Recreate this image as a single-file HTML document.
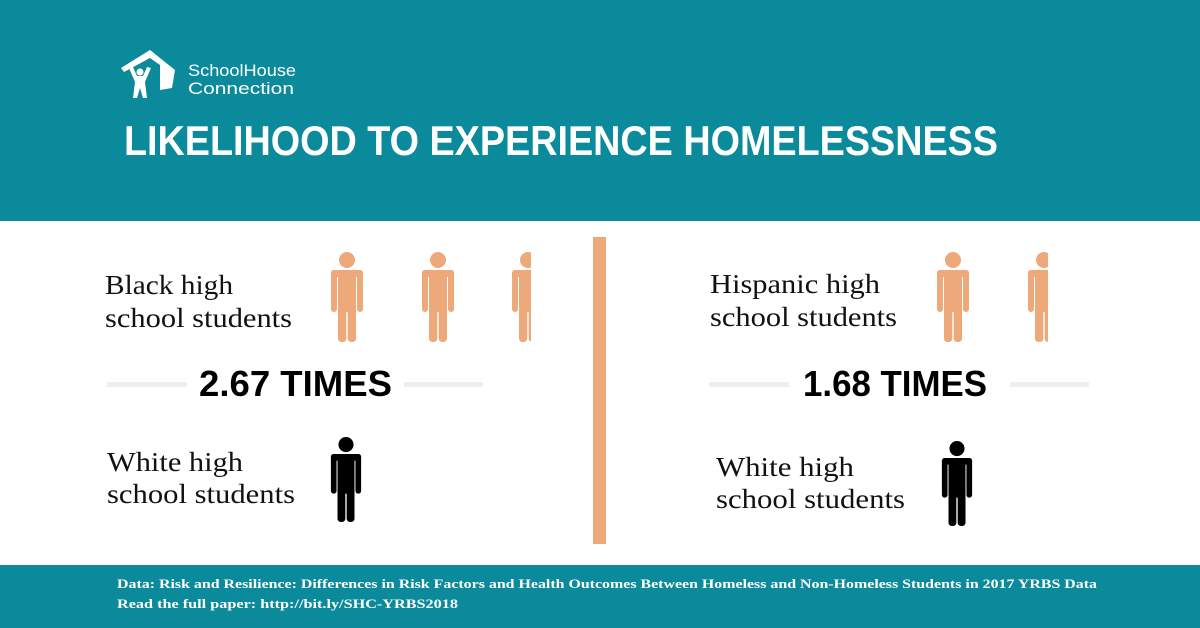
<!DOCTYPE html>
<html><head><meta charset="utf-8"><style>html,body{margin:0;padding:0;background:#fff}svg{display:block}</style></head>
<body>
<svg width="1200" height="628" viewBox="0 0 1200 628" xmlns="http://www.w3.org/2000/svg">
<defs>
<symbol id="p" viewBox="0 0 32 90">
<circle cx="16" cy="8" r="8"/>
<rect x="0" y="18" width="32" height="7" rx="3"/>
<rect x="0" y="18" width="6" height="42" rx="3"/>
<rect x="26" y="18" width="6" height="42" rx="3"/>
<rect x="7" y="18" width="18" height="42"/>
<rect x="7" y="54" width="8.3" height="36" rx="3.5"/>
<rect x="16.7" y="54" width="8.3" height="36" rx="3.5"/>
</symbol>
<clipPath id="c1"><rect x="500" y="240" width="31" height="110"/></clipPath>
<clipPath id="c2"><rect x="1020" y="240" width="28" height="110"/></clipPath>
</defs>
<rect x="0" y="0" width="1200" height="221" fill="#0b8a9c"/>
<rect x="0" y="565" width="1200" height="63" fill="#0b8a9c"/>
<!-- logo -->
<g fill="#fff">
<path d="M121 68 L150 50 L175 70 L170 72 L150 58 L124 72 Z"/>
<path d="M160 64 L175 70 L172 88 L160 90 Z"/>
<rect x="170" y="72" width="2" height="14"/>
<circle cx="140" cy="72" r="3.5"/>
<path d="M129 68 L133 67 L137 76 L143 76 L147 67 L151 68 L145 82 L147 98 L143 98 L140 88 L137 98 L133 98 L135 82 Z"/>
</g>
<text x="188" y="76" font-family="Liberation Sans, sans-serif" font-size="17" fill="#fff" textLength="108" lengthAdjust="spacingAndGlyphs">SchoolHouse</text>
<text x="188" y="94" font-family="Liberation Sans, sans-serif" font-size="17" fill="#fff" textLength="106" lengthAdjust="spacingAndGlyphs">Connection</text>
<text x="124" y="155" font-family="Liberation Sans, sans-serif" font-weight="bold" font-size="42" fill="#fff" textLength="874" lengthAdjust="spacingAndGlyphs">LIKELIHOOD TO EXPERIENCE HOMELESSNESS</text>
<!-- divider -->
<rect x="593" y="237" width="13" height="307" fill="#eea97a"/>
<!-- left -->
<g font-family="Liberation Serif, serif" font-size="27" fill="#111">
<text x="105" y="294" textLength="128" lengthAdjust="spacingAndGlyphs">Black high</text>
<text x="105" y="327" textLength="187" lengthAdjust="spacingAndGlyphs">school students</text>
<text x="107" y="471" textLength="136" lengthAdjust="spacingAndGlyphs">White high</text>
<text x="107" y="503" textLength="188" lengthAdjust="spacingAndGlyphs">school students</text>
<text x="710" y="293" textLength="170" lengthAdjust="spacingAndGlyphs">Hispanic high</text>
<text x="710" y="326" textLength="187" lengthAdjust="spacingAndGlyphs">school students</text>
<text x="716" y="476" textLength="138" lengthAdjust="spacingAndGlyphs">White high</text>
<text x="716" y="508" textLength="189" lengthAdjust="spacingAndGlyphs">school students</text>
</g>
<g fill="#eea97a">
<use href="#p" x="331" y="252" width="32" height="90"/>
<use href="#p" x="422" y="252" width="32" height="90"/>
<g clip-path="url(#c1)"><use href="#p" x="512" y="252" width="32" height="90"/></g>
<use href="#p" x="937" y="252" width="32" height="90"/>
<g clip-path="url(#c2)"><use href="#p" x="1028" y="252" width="32" height="90"/></g>
</g>
<g fill="#000">
<use href="#p" x="330" y="437" width="32" height="85"/>
<use href="#p" x="941" y="441" width="32" height="85"/>
</g>
<g fill="#eeeeee">
<rect x="107" y="382" width="80" height="5"/>
<rect x="404" y="382" width="79" height="5"/>
<rect x="709" y="382" width="80" height="5"/>
<rect x="1010" y="382" width="79" height="5"/>
</g>
<g font-family="Liberation Sans, sans-serif" font-weight="bold" font-size="36" fill="#000">
<text x="199" y="396" textLength="193" lengthAdjust="spacingAndGlyphs">2.67 TIMES</text>
<text x="803" y="396" textLength="184" lengthAdjust="spacingAndGlyphs">1.68 TIMES</text>
</g>
<g font-family="Liberation Serif, serif" font-weight="bold" font-size="13" fill="#fff">
<text x="117" y="588" textLength="980" lengthAdjust="spacingAndGlyphs">Data: Risk and Resilience: Differences in Risk Factors and Health Outcomes Between Homeless and Non-Homeless Students in 2017 YRBS Data</text>
<text x="117" y="608" textLength="341" lengthAdjust="spacingAndGlyphs">Read the full paper: http://bit.ly/SHC-YRBS2018</text>
</g>
</svg>
</body></html>
